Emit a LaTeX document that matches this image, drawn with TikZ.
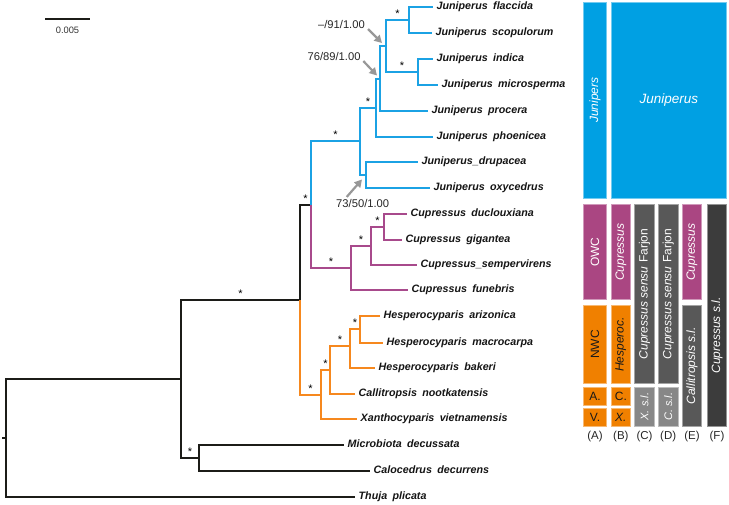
\documentclass[tikz,border=0pt]{standalone}
\usepackage{fontspec}
\setmainfont{Liberation Sans}
\usepackage{graphicx}
\usetikzlibrary{arrows.meta}

\definecolor{junblue}{RGB}{27,162,228}
\definecolor{owcpurple}{RGB}{168,74,140}
\definecolor{nwcorange}{RGB}{246,136,30}
\definecolor{treeblack}{RGB}{28,28,24}
\definecolor{boxblue}{RGB}{0,160,227}
\definecolor{boxpurple}{RGB}{170,70,130}
\definecolor{boxorange}{RGB}{240,128,0}
\definecolor{boxgray}{RGB}{88,88,88}
\definecolor{boxlight}{RGB}{135,135,135}
\definecolor{boxdark}{RGB}{60,60,60}
\definecolor{suppgray}{RGB}{152,152,152}

\newcommand{\gap}{\hspace{0.5em}}

\tikzset{
  br/.style={line width=2pt, draw=#1},
  taxon/.style={anchor=west, inner xsep=3.5pt, inner ysep=0pt, text height=7.7pt, text depth=2.2pt,
    font=\fontsize{10.7}{12}\selectfont\bfseries\itshape, text=black!92},
  star/.style={anchor=south, inner sep=0pt, yshift=1.6pt, font=\fontsize{11}{12}\selectfont},
  supp/.style={inner sep=0pt, text height=7.7pt, text depth=0pt, font=\fontsize{11.2}{12}\selectfont, text=black!85},
  supparrow/.style={draw=suppgray, line width=2.2pt, -{Triangle[length=7.5pt,width=8pt]}},
  blk/.style={draw=#1!55!white, line width=0.6pt, fill=#1, inner sep=0pt, text=white,
    font=\fontsize{12}{14}\selectfont},
  colhead/.style={inner sep=0pt, font=\fontsize{11.5}{13}\selectfont, text=black!85}
}

\begin{document}
\begin{tikzpicture}[x=1pt, y=-1pt]
\useasboundingbox (0,0) rectangle (729,504);

% scale bar
\coordinate (sb0) at (45,19);
\coordinate (sb1) at (90,19);
\draw[line width=1.5pt, treeblack] (sb0) -- (sb1);
\node[inner sep=0pt, font=\fontsize{9.3}{10}\selectfont, text=black!80] (sblab) at (67.5,30) {0.005};

% internal nodes
\coordinate (root) at (6,438);
\coordinate (rootstub) at (2,438);
\coordinate (nCupr) at (181,379);
\coordinate (nMC) at (199,458);
\coordinate (nCsl) at (300,300);
\coordinate (nJC) at (311,205);
\coordinate (nJun) at (360,141);
\coordinate (nDO) at (366,175);
\coordinate (nJa) at (376,108);
\coordinate (nJb) at (380,79);
\coordinate (nJc) at (386,46);
\coordinate (nFS) at (409,20);
\coordinate (nIM) at (418,72);
\coordinate (nOWC) at (351,268);
\coordinate (nCS) at (371,246);
\coordinate (nDG) at (384,227);
\coordinate (nNWC) at (321,395);
\coordinate (nCH) at (330,370);
\coordinate (nHesp) at (350,346);
\coordinate (nAM) at (360,329);

% tips
\node[taxon] (flac) at (433,7) {Juniperus\gap flaccida};
\node[taxon] (scop) at (432,33) {Juniperus\gap scopulorum};
\node[taxon] (indi) at (433,59) {Juniperus\gap indica};
\node[taxon] (micr) at (438,85) {Juniperus\gap microsperma};
\node[taxon] (proc) at (428,111) {Juniperus\gap procera};
\node[taxon] (phoe) at (433,137) {Juniperus\gap phoenicea};
\node[taxon] (drup) at (418,162) {Juniperus\_drupacea};
\node[taxon] (oxyc) at (430,188) {Juniperus\gap oxycedrus};
\node[taxon] (ducl) at (407,214) {Cupressus\gap duclouxiana};
\node[taxon] (giga) at (402,240) {Cupressus\gap gigantea};
\node[taxon] (semp) at (417,265) {Cupressus\_sempervirens};
\node[taxon] (fune) at (408,290) {Cupressus\gap funebris};
\node[taxon] (ariz) at (380,316) {Hesperocyparis\gap arizonica};
\node[taxon] (macr) at (383,343) {Hesperocyparis\gap macrocarpa};
\node[taxon] (bake) at (375,368) {Hesperocyparis\gap bakeri};
\node[taxon] (noot) at (355,394) {Callitropsis\gap nootkatensis};
\node[taxon] (viet) at (357,419) {Xanthocyparis\gap vietnamensis};
\node[taxon] (decu) at (344,445) {Microbiota\gap decussata};
\node[taxon] (decr) at (370,471) {Calocedrus\gap decurrens};
\node[taxon] (thuj) at (355,497) {Thuja\gap plicata};

% backbone
\draw[br=treeblack] (rootstub) -- (root);
\draw[br=treeblack] (root) |- (nCupr);
\draw[br=treeblack] (root) |- (thuj.west);
\draw[br=treeblack] (nCupr) |- (nCsl) node[star, pos=0.75] (s1) {*};
\draw[br=treeblack] (nCupr) |- (nMC) node[star, pos=0.75] (s2) {*};
\draw[br=treeblack] (nMC) |- (decu.west);
\draw[br=treeblack] (nMC) |- (decr.west);
\draw[br=treeblack] (nCsl) |- (nJC) node[star, pos=0.75] (s3) {*};

% Juniperus
\draw[br=junblue] (nJC) |- (nJun) node[star, pos=0.75] (s4) {*};
\draw[br=junblue] (nJun) |- (nJa) node[star, pos=0.75] (s5) {*};
\draw[br=junblue] (nJun) |- (nDO);
\draw[br=junblue] (nDO) |- (drup.west);
\draw[br=junblue] (nDO) |- (oxyc.west);
\draw[br=junblue] (nJa) |- (nJb);
\draw[br=junblue] (nJa) |- (phoe.west);
\draw[br=junblue] (nJb) |- (nJc);
\draw[br=junblue] (nJb) |- (proc.west);
\draw[br=junblue] (nJc) |- (nFS) node[star, pos=0.75] (s6) {*};
\draw[br=junblue] (nJc) |- (nIM) node[star, pos=0.75] (s7) {*};
\draw[br=junblue] (nFS) |- (flac.west);
\draw[br=junblue] (nFS) |- (scop.west);
\draw[br=junblue] (nIM) |- (indi.west);
\draw[br=junblue] (nIM) |- (micr.west);

% Cupressus
\draw[br=owcpurple] (nJC) |- (nOWC) node[star, pos=0.75] (s8) {*};
\draw[br=owcpurple] (nOWC) |- (nCS) node[star, pos=0.75] (s9) {*};
\draw[br=owcpurple] (nOWC) |- (fune.west);
\draw[br=owcpurple] (nCS) |- (nDG) node[star, pos=0.75] (s10) {*};
\draw[br=owcpurple] (nCS) |- (semp.west);
\draw[br=owcpurple] (nDG) |- (ducl.west);
\draw[br=owcpurple] (nDG) |- (giga.west);

% NWC
\draw[br=nwcorange] (nCsl) |- (nNWC) node[star, pos=0.75] (s11) {*};
\draw[br=nwcorange] (nNWC) |- (nCH) node[star, pos=0.75] (s12) {*};
\draw[br=nwcorange] (nNWC) |- (viet.west);
\draw[br=nwcorange] (nCH) |- (nHesp) node[star, pos=0.75] (s13) {*};
\draw[br=nwcorange] (nCH) |- (noot.west);
\draw[br=nwcorange] (nHesp) |- (nAM) node[star, pos=0.75] (s14) {*};
\draw[br=nwcorange] (nHesp) |- (bake.west);
\draw[br=nwcorange] (nAM) |- (ariz.west);
\draw[br=nwcorange] (nAM) |- (macr.west);

% support values
\node[supp, anchor=east] (bs91) at (365,25) {\textendash/91/1.00};
\node[supp, anchor=east] (bs89) at (360.7,56.7) {76/89/1.00};
\node[supp] (bs50) at (362.7,204) {73/50/1.00};
\coordinate (t91) at (382,43);
\coordinate (t89) at (377,75.5);
\coordinate (t50) at (362,179.5);
\draw[supparrow] ([shift={(3,4)}]bs91.east) -- (t91);
\draw[supparrow] ([shift={(2.6,4.3)}]bs89.east) -- (t89);
\draw[supparrow] ([shift={(-16,-3)}]bs50.north) -- (t50);

% classification columns
\node[blk=boxblue, minimum width=23.4pt, minimum height=196pt] (junA) at (595,100.3)
  {\rotatebox{90}{\itshape Junipers}};
\node[blk=boxblue, minimum width=115.7pt, minimum height=196pt] (junB) at (668.85,100.3)
  {\raisebox{3pt}{\fontsize{13.5}{15}\selectfont\itshape Juniperus}};

\node[blk=boxpurple, minimum width=23.4pt, minimum height=94.6pt] (owcA) at (595,252)
  {\rotatebox{90}{OWC}};
\node[blk=boxpurple, minimum width=19.7pt, minimum height=94.6pt] (cupB) at (620.85,252)
  {\rotatebox{90}{\itshape Cupressus}};
\node[blk=boxgray, minimum width=19.6pt, minimum height=178.6pt] (farC) at (644.5,294)
  {\rotatebox{90}{\itshape Cupressus sensu \upshape Farjon}};
\node[blk=boxgray, minimum width=19.7pt, minimum height=178.6pt] (farD) at (668.15,294)
  {\rotatebox{90}{\itshape Cupressus sensu \upshape Farjon}};
\node[blk=boxpurple, minimum width=19.4pt, minimum height=94.6pt] (cupE) at (692,252)
  {\rotatebox{90}{\itshape Cupressus}};
\node[blk=boxdark, minimum width=19.4pt, minimum height=221.3pt] (cslF) at (717,315.35) {};
\node[inner sep=0pt, text=white, font=\fontsize{12}{14}\selectfont] (cslFtext) at (717,335.5)
  {\rotatebox{90}{\itshape Cupressus s.l.}};

\node[blk=boxorange, text=black!90, minimum width=23.4pt, minimum height=77.6pt] (nwcA) at (595,344.5)
  {\rotatebox{90}{NWC}};
\node[blk=boxorange, text=black!90, minimum width=19.7pt, minimum height=77.6pt] (hesB) at (620.85,344.5)
  {\rotatebox{90}{\itshape Hesperoc.}};
\node[blk=boxgray, minimum width=19.4pt, minimum height=120.3pt] (calE) at (692,365.85)
  {\rotatebox{90}{\itshape Callitropsis s.l.}};

\node[blk=boxorange, text=black!90, minimum width=23.4pt, minimum height=17.7pt] (aA) at (595,396.15) {A.};
\node[blk=boxorange, text=black!90, minimum width=23.4pt, minimum height=17.7pt] (vA) at (595,417.15) {V.};
\node[blk=boxorange, text=black!90, minimum width=19.7pt, minimum height=17.7pt] (cB) at (620.85,396.15) {C.};
\node[blk=boxorange, text=black!90, minimum width=19.7pt, minimum height=17.7pt] (xB) at (620.85,417.15) {\itshape X.};
\node[blk=boxlight, minimum width=19.6pt, minimum height=38.7pt, font=\fontsize{11}{13}\selectfont] (xslC) at (644.5,406.65)
  {\rotatebox{90}{\itshape X. s.l.}};
\node[blk=boxlight, minimum width=19.7pt, minimum height=38.7pt, font=\fontsize{11}{13}\selectfont] (cslD) at (668.15,406.65)
  {\rotatebox{90}{\itshape C. s.l.}};

\node[colhead] (hA) at (595,436.5) {(A)};
\node[colhead] (hB) at (620.85,436.5) {(B)};
\node[colhead] (hC) at (644.5,436.5) {(C)};
\node[colhead] (hD) at (668.15,436.5) {(D)};
\node[colhead] (hE) at (692,436.5) {(E)};
\node[colhead] (hF) at (717,436.5) {(F)};
\end{tikzpicture}
\end{document}
